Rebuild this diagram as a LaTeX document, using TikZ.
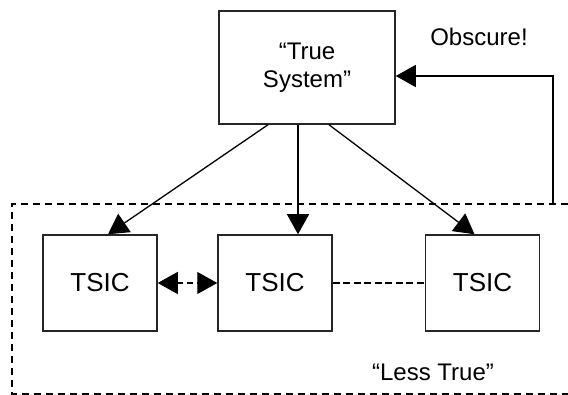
\documentclass[tikz,border=0pt]{standalone}
\usepackage{fontspec}
\setmainfont{Liberation Sans}
\usepackage{tikz}
\usetikzlibrary{arrows.meta}

\tikzset{
  box/.style={draw=black!85, line width=1.5pt, minimum width=114pt, minimum height=96pt, inner sep=0pt},
  feed/.style={line width=1.3pt, -{Triangle[length=20pt,width=22pt]}},
  peer/.style={line width=1.3pt, dash pattern=on 6pt off 4pt, {Triangle[length=20pt,width=22pt]}-{Triangle[length=20pt,width=22pt]}},
  link/.style={line width=1.2pt, dash pattern=on 7pt off 3.5pt},
  realm/.style={line width=1.7pt, dash pattern=on 7pt off 5pt}
}

\begin{document}
\begin{tikzpicture}[x=1pt, y=-1pt, font=\fontsize{24}{28}\selectfont]
  \useasboundingbox (0,0) rectangle (568,395);

  % the "true" one on top
  \node[box, minimum width=176pt, minimum height=113pt, align=center] (sys) at (307,67.5) {“True\\System”};

  % the three TSICs
  \node[box, font=\fontsize{26}{30}\selectfont] (tsicA) at (100,283) {TSIC};
  \node[box, font=\fontsize{26}{30}\selectfont] (tsicB) at (275,283) {TSIC};
  \node[box, font=\fontsize{26}{30}\selectfont] (tsicC) at (482.5,283) {TSIC};

  % less true region (right side runs off the page)
  \draw[realm] (580,204) -- (12,204) -- (12,394) -- (580,394);
  \node (less) at (433,372) {“Less True”};

  \draw[feed] ([xshift=-39pt]sys.south) -- ([xshift=8pt]tsicA.north);
  \draw[feed] ([xshift=-9pt]sys.south) -- ([xshift=23pt]tsicB.north);
  \draw[feed] ([xshift=22pt]sys.south) -- ([xshift=-8pt]tsicC.north);

  \draw[peer] (tsicA) -- (tsicB);
  \draw[link] (tsicB) -- (tsicC);

  % feedback
  \coordinate (up) at (553,204);
  \draw[feed] (up) |- ([yshift=-8.5pt]sys.east);
  \node (obs) at (479,37) {Obscure!};
\end{tikzpicture}
\end{document}
